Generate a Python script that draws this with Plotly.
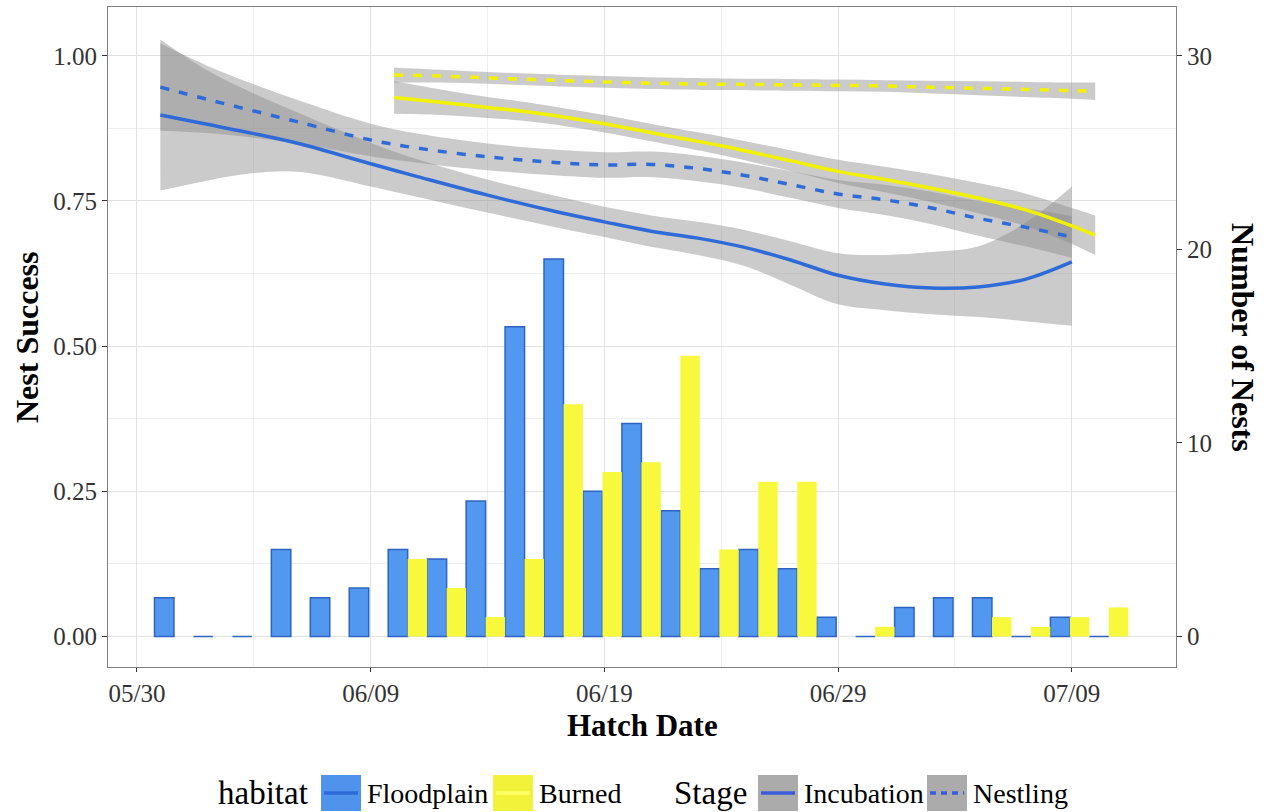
import plotly.graph_objects as go

# ---------------- data ----------------
# hatch-date bins (centre of each 40-hour bin) and nest counts per habitat
bin_centers = [
    "2015-05-31 14:00", "2015-06-02 06:00", "2015-06-03 22:00", "2015-06-05 14:00",
    "2015-06-07 06:00", "2015-06-08 22:00", "2015-06-10 14:00", "2015-06-12 06:00",
    "2015-06-13 22:00", "2015-06-15 14:00", "2015-06-17 06:00", "2015-06-18 22:00",
    "2015-06-20 14:00", "2015-06-22 06:00", "2015-06-23 22:00", "2015-06-25 14:00",
    "2015-06-27 06:00", "2015-06-28 22:00", "2015-06-30 14:00", "2015-07-02 06:00",
    "2015-07-03 22:00", "2015-07-05 14:00", "2015-07-07 06:00", "2015-07-08 22:00",
    "2015-07-10 14:00",
]
floodplain_nests = [2, 0, 0, 4.5, 2, 2.5, 4.5, 4, 7, 16, 19.5, 7.5, 11, 6.5, 3.5,
                    4.5, 3.5, 1, 0, 1.5, 2, 2, 0, 1, 0]
burned_nests = [0, 0, 0, 0, 0, 0, 4, 2.5, 1, 4, 12, 8.5, 9, 14.5, 4.5,
                8, 8, 0, 0.5, 0, 0, 1, 0.5, 1, 1.5]

# smoothed nest success, Floodplain
flood_dates = ["2015-05-31", "2015-06-02", "2015-06-04", "2015-06-06", "2015-06-09",
               "2015-06-11", "2015-06-14", "2015-06-17", "2015-06-19", "2015-06-21",
               "2015-06-23", "2015-06-25", "2015-06-27", "2015-06-29", "2015-07-01",
               "2015-07-03", "2015-07-05", "2015-07-07", "2015-07-09"]
flood_inc_fit = [0.898, 0.882, 0.866, 0.848, 0.814, 0.792, 0.760, 0.731, 0.714, 0.698,
                 0.686, 0.670, 0.648, 0.622, 0.607, 0.600, 0.602, 0.615, 0.645]
flood_inc_hi = [1.028, 0.975, 0.935, 0.900, 0.850, 0.822, 0.787, 0.758, 0.740, 0.725,
                0.714, 0.700, 0.680, 0.660, 0.657, 0.662, 0.672, 0.712, 0.775]
flood_inc_lo = [0.768, 0.785, 0.798, 0.800, 0.775, 0.757, 0.730, 0.704, 0.688, 0.671,
                0.657, 0.638, 0.605, 0.572, 0.562, 0.555, 0.550, 0.543, 0.535]
flood_nest_fit = [0.946, 0.925, 0.905, 0.885, 0.855, 0.841, 0.826, 0.816, 0.812, 0.813,
                  0.806, 0.794, 0.778, 0.762, 0.752, 0.738, 0.720, 0.705, 0.688]
flood_nest_hi = [1.021, 0.983, 0.951, 0.922, 0.883, 0.866, 0.849, 0.838, 0.834, 0.835,
                 0.828, 0.816, 0.801, 0.786, 0.778, 0.766, 0.750, 0.738, 0.724]
flood_nest_lo = [0.871, 0.867, 0.859, 0.848, 0.827, 0.816, 0.803, 0.794, 0.790, 0.791,
                 0.784, 0.772, 0.755, 0.738, 0.726, 0.710, 0.690, 0.672, 0.652]

# smoothed nest success, Burned
burn_dates = ["2015-06-10", "2015-06-12", "2015-06-14", "2015-06-16", "2015-06-19",
              "2015-06-22", "2015-06-24", "2015-06-27", "2015-06-29", "2015-07-01",
              "2015-07-03", "2015-07-05", "2015-07-07", "2015-07-09", "2015-07-10"]
burn_inc_fit = [0.928, 0.920, 0.911, 0.902, 0.883, 0.860, 0.845, 0.819, 0.801, 0.787,
                0.772, 0.755, 0.735, 0.707, 0.691]
burn_inc_hi = [0.956, 0.942, 0.929, 0.918, 0.898, 0.875, 0.861, 0.837, 0.821, 0.809,
               0.796, 0.781, 0.763, 0.738, 0.725]
burn_inc_lo = [0.900, 0.898, 0.893, 0.886, 0.868, 0.845, 0.829, 0.801, 0.781, 0.765,
               0.748, 0.729, 0.707, 0.676, 0.657]
burn_nest_fit = [0.967, 0.965, 0.962, 0.959, 0.955, 0.952, 0.951, 0.950, 0.949, 0.948,
                 0.946, 0.944, 0.942, 0.940, 0.939]
burn_nest_hi = [0.980, 0.976, 0.972, 0.969, 0.965, 0.962, 0.961, 0.960, 0.959, 0.958,
                0.957, 0.956, 0.955, 0.954, 0.954]
burn_nest_lo = [0.954, 0.954, 0.952, 0.949, 0.945, 0.942, 0.941, 0.940, 0.939, 0.938,
                0.935, 0.932, 0.929, 0.926, 0.924]

y_ticks = [0, 0.25, 0.5, 0.75, 1.0]
y_tick_text = ["0.00", "0.25", "0.50", "0.75", "1.00"]
y2_ticks = [0, 10, 20, 30]

# ---------------- style ----------------
FONT = "Liberation Serif"
BLUE_FILL = "#5297F0"
BLUE_EDGE = "#2E64C0"
BLUE_LINE = "#2F6BD8"
YELLOW_FILL = "#F8F83C"
YELLOW_LINE = "#F2F200"
RIBBON = "rgba(140,140,140,0.45)"
DASH = "9px,10px"
BAR_W = 20 * 3600 * 1000  # 20 hours in ms

# page geometry (px)
W, H = 1274, 812
L, R, T, B = 108, 98, 7, 145
PW, PH = W - L - R, H - T - B


def px_x(px):
    return (px - L) / PW


def px_y(py):
    return (H - B - py) / PH


fig = go.Figure()

# nest counts (right axis)
fig.add_trace(go.Bar(
    x=bin_centers, y=floodplain_nests, width=BAR_W, offset=-BAR_W, yaxis="y2",
    marker=dict(color=BLUE_FILL, line=dict(color=BLUE_EDGE, width=1.5)),
    showlegend=False, hoverinfo="skip"))
fig.add_trace(go.Bar(
    x=bin_centers, y=burned_nests, width=BAR_W, offset=0, yaxis="y2",
    marker=dict(color=YELLOW_FILL, line=dict(width=0)),
    showlegend=False, hoverinfo="skip"))


def ribbon(x, hi, lo):
    fig.add_trace(go.Scatter(x=x, y=hi, mode="lines", line=dict(width=0, shape="spline"),
                             showlegend=False, hoverinfo="skip"))
    fig.add_trace(go.Scatter(x=x, y=lo, mode="lines", line=dict(width=0, shape="spline"),
                             fill="tonexty", fillcolor=RIBBON,
                             showlegend=False, hoverinfo="skip"))


ribbon(flood_dates, flood_inc_hi, flood_inc_lo)
ribbon(flood_dates, flood_nest_hi, flood_nest_lo)
ribbon(burn_dates, burn_inc_hi, burn_inc_lo)
ribbon(burn_dates, burn_nest_hi, burn_nest_lo)


def fit_line(x, y, color, dash):
    fig.add_trace(go.Scatter(x=x, y=y, mode="lines",
                             line=dict(color=color, width=3.5, dash=dash, shape="spline"),
                             showlegend=False, hoverinfo="skip"))


fit_line(flood_dates, flood_inc_fit, BLUE_LINE, "solid")
fit_line(flood_dates, flood_nest_fit, BLUE_LINE, DASH)
fit_line(burn_dates, burn_inc_fit, YELLOW_LINE, "solid")
fit_line(burn_dates, burn_nest_fit, YELLOW_LINE, DASH)

# ---------------- legend (drawn below the panel) ----------------
shapes = []
annotations = []
leg_y0, leg_y1 = px_y(811), px_y(775)
leg_mid = px_y(793)


def swatch(x0, x1, fill, line_color, dash="solid"):
    shapes.append(dict(type="rect", xref="paper", yref="paper",
                       x0=px_x(x0), x1=px_x(x1), y0=leg_y0, y1=leg_y1,
                       fillcolor=fill, line=dict(width=0), layer="above"))
    shapes.append(dict(type="line", xref="paper", yref="paper",
                       x0=px_x(x0 + 3), x1=px_x(x1 - 3), y0=leg_mid, y1=leg_mid,
                       line=dict(color=line_color, width=3.5, dash=dash), layer="above"))


def label(text, x_left, size):
    annotations.append(dict(text=text, xref="paper", yref="paper", x=px_x(x_left),
                            y=leg_mid, xanchor="left", yanchor="middle", showarrow=False,
                            font=dict(family=FONT, size=size, color="black")))


label("habitat", 216, 33)
swatch(321, 361, "#4F93EC", BLUE_LINE)
label("Floodplain", 365, 28)
swatch(493, 533, "#F2F23A", "#FFFF66")
label("Burned", 537, 28)
label("Stage", 672, 33)
swatch(758, 798, "#ABABAB", "#3A5CD8")
label("Incubation", 802, 28)
swatch(927, 967, "#ABABAB", "#3A5CD8", "6px,5px")
label("Nestling", 971, 28)

# axis titles
annotations.append(dict(text="Nest Success", xref="paper", yref="paper",
                        x=px_x(27), y=0.5, textangle=-90, showarrow=False,
                        xanchor="center", yanchor="middle",
                        font=dict(family=FONT, size=32, color="black", weight="bold")))
annotations.append(dict(text="Number of Nests", xref="paper", yref="paper",
                        x=px_x(1243), y=0.5, textangle=90, showarrow=False,
                        xanchor="center", yanchor="middle",
                        font=dict(family=FONT, size=32, color="black", weight="bold")))
annotations.append(dict(text="Hatch Date", xref="paper", yref="paper",
                        x=0.5, y=px_y(725), showarrow=False,
                        xanchor="center", yanchor="middle",
                        font=dict(family=FONT, size=31, color="black", weight="bold")))

y_lo, y_hi = -0.0525, 1.084
tick_font = dict(family=FONT, size=25, color="#333333")

fig.update_layout(
    width=W, height=H,
    margin=dict(l=L, r=R, t=T, b=B, pad=0),
    paper_bgcolor="white", plot_bgcolor="white",
    barmode="overlay",
    shapes=shapes, annotations=annotations,
    xaxis=dict(
        type="date", range=["2015-05-28 18:15", "2015-07-13 11:00"],
        tick0="2015-05-30", dtick=10 * 86400000, tickformat="%m/%d",
        ticks="outside", ticklen=4, tickcolor="#333333", tickfont=tick_font,
        showgrid=True, gridcolor="#E2E2E2", gridwidth=1,
        minor=dict(tick0="2015-05-30", dtick=5 * 86400000, showgrid=True,
                   gridcolor="#EFEFEF", gridwidth=1),
        showline=True, mirror=True, linecolor="#7F7F7F", linewidth=1.2,
        zeroline=False, fixedrange=True),
    yaxis=dict(
        range=[y_lo, y_hi], tickvals=y_ticks, ticktext=y_tick_text,
        ticks="outside", ticklen=5, tickcolor="#333333", tickfont=tick_font,
        showgrid=True, gridcolor="#E2E2E2", gridwidth=1,
        minor=dict(dtick=0.125, tick0=0, showgrid=True, gridcolor="#EFEFEF", gridwidth=1),
        showline=True, mirror=True, linecolor="#7F7F7F", linewidth=1.2,
        zeroline=False, fixedrange=True),
    yaxis2=dict(
        overlaying="y", side="right", range=[30 * y_lo, 30 * y_hi],
        tickvals=y2_ticks, ticks="outside", ticklen=5, tickcolor="#333333",
        tickfont=tick_font, showgrid=False, zeroline=False, showline=False,
        fixedrange=True),
)

fig.write_html("out.html")
